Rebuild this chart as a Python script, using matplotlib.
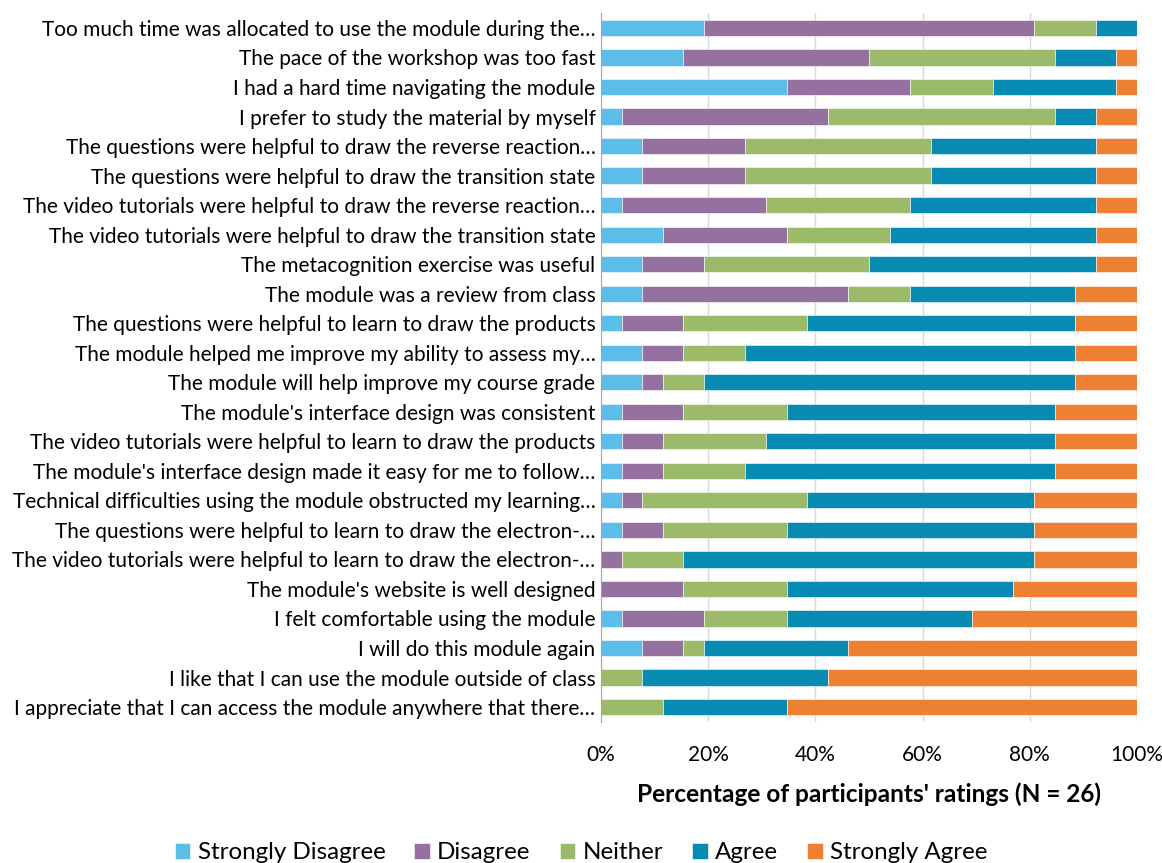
import matplotlib
matplotlib.use("Agg")
import matplotlib.pyplot as plt
import numpy as np

plt.rcParams['font.family'] = ['Lato', 'DejaVu Sans']

categories = [
    "Too much time was allocated to use the module during the…",
    "The pace of the workshop was too fast",
    "I had a hard time navigating the module",
    "I prefer to study the material by myself",
    "The questions were helpful to draw the reverse reaction…",
    "The questions were helpful to draw the transition state",
    "The video tutorials were helpful to draw the reverse reaction…",
    "The video tutorials were helpful to draw the transition state",
    "The metacognition exercise was useful",
    "The module was a review from class",
    "The questions were helpful to learn to draw the products",
    "The module helped me improve my ability to assess my…",
    "The module will help improve my course grade",
    "The module's interface design was consistent",
    "The video tutorials were helpful to learn to draw the products",
    "The module's interface design made it easy for me to follow…",
    "Technical difficulties using the module obstructed my learning…",
    "The questions were helpful to learn to draw the electron-…",
    "The video tutorials were helpful to learn to draw the electron-…",
    "The module's website is well designed",
    "I felt comfortable using the module",
    "I will do this module again",
    "I like that I can use the module outside of class",
    "I appreciate that I can access the module anywhere that there…",
]

N = 26
strongly_disagree = [5, 4, 9, 1, 2, 2, 1, 3, 2, 2, 1, 2, 2, 1, 1, 1, 1, 1, 0, 0, 1, 2, 0, 0]
disagree          = [16, 9, 6, 10, 5, 5, 7, 6, 3, 10, 3, 2, 1, 3, 2, 2, 1, 2, 1, 4, 4, 2, 0, 0]
neither           = [3, 9, 4, 11, 9, 9, 7, 5, 8, 3, 6, 3, 2, 5, 5, 4, 8, 6, 3, 5, 4, 1, 2, 3]
agree             = [2, 3, 6, 2, 8, 8, 9, 10, 11, 8, 13, 16, 18, 13, 14, 15, 11, 12, 17, 11, 9, 7, 9, 6]
strongly_agree    = [0, 1, 1, 2, 2, 2, 2, 2, 2, 3, 3, 3, 3, 4, 4, 4, 5, 5, 5, 6, 8, 14, 15, 17]

series_names = ["Strongly Disagree", "Disagree", "Neither", "Agree", "Strongly Agree"]
series = [strongly_disagree, disagree, neither, agree, strongly_agree]
colors = ["#5BBDE8", "#9571A0", "#9BBB6A", "#088BB3", "#EE8034"]
xticklabels = ["0%", "20%", "40%", "60%", "80%", "100%"]

fig = plt.figure(figsize=(11.62, 8.63), dpi=100)
ax = fig.add_axes([0.5172, 0.1636, 0.4613, 0.8211])

y = np.arange(len(categories))
left = np.zeros(len(categories))
for name, vals, c in zip(series_names, series, colors):
    pct = np.array(vals) / N * 100
    ax.barh(y, pct, left=left, height=0.55, color=c, label=name,
            edgecolor="white", linewidth=0.4, zorder=3)
    left += pct

ax.set_ylim(len(categories) - 0.5, -0.5)
ax.set_xlim(0, 100)
ax.set_yticks(y)
ax.set_yticklabels(categories, fontsize=15.0)
ax.set_xticks(np.arange(0, 101, 20))
ax.set_xticklabels(xticklabels, fontsize=15)
ax.tick_params(axis='y', length=0, pad=4)
ax.tick_params(axis='x', length=0, pad=17)
ax.grid(axis='x', color='#D9D9D9', linewidth=1, zorder=0)
for s in ['top', 'right', 'bottom']:
    ax.spines[s].set_visible(False)
ax.spines['left'].set_color('#A6A6A6')
ax.spines['left'].set_zorder(4)

ax.set_xlabel("Percentage of participants' ratings (N = 26)", fontsize=17.6,
              fontweight='bold', labelpad=12)

handles, labels = ax.get_legend_handles_labels()
fig.legend(handles, labels, loc='center', bbox_to_anchor=(0.5, 0.012), ncol=5,
           frameon=False, fontsize=17.4, handlelength=0.65, handleheight=0.65,
           handletextpad=0.3, columnspacing=1.2)

fig.savefig("out.png", dpi=100)
